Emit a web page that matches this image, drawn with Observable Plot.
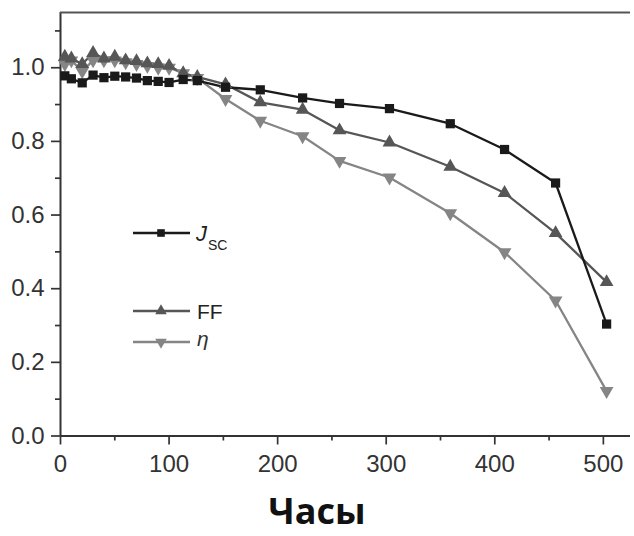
<!DOCTYPE html>
<html><head><meta charset="utf-8">
<script src="https://cdn.jsdelivr.net/npm/d3@7"></script>
<script src="https://cdn.jsdelivr.net/npm/@observablehq/plot@0.6"></script>
<style>
body{margin:0;background:#fff;}
#wrap{position:relative;width:634px;height:536px;overflow:hidden;}
#title{position:absolute;left:0;top:486px;width:634px;height:50px;text-align:center;font-family:"Open Sans","Noto Sans",sans-serif;font-weight:700;font-size:36px;line-height:50px;color:#111;}
#legend{position:absolute;left:0;top:0;}
</style></head><body>
<div id="wrap"><div id="chart"></div><svg id="legend" width="634" height="480"></svg><div id="title">Часы</div></div>
<script>
// Data
const hours = [4,10,20,30,40,50,60,70,80,90,100,113,126,152,184,223,257,303,359,409,456,503];
const jscValues = [0.978,0.970,0.959,0.980,0.973,0.977,0.975,0.972,0.965,0.963,0.960,0.968,0.965,0.947,0.940,0.918,0.903,0.889,0.848,0.778,0.687,0.304];
const ffValues  = [1.030,1.025,1.010,1.040,1.025,1.030,1.020,1.018,1.012,1.010,1.005,0.985,0.975,0.955,0.906,0.886,0.830,0.797,0.731,0.660,0.551,0.418];
const etaValues = [1.010,1.020,0.990,1.020,1.020,1.020,1.015,1.010,1.005,1.000,1.000,0.985,0.972,0.915,0.856,0.814,0.747,0.702,0.605,0.499,0.368,0.122];
const xMajor = [0,100,200,300,400,500];
const xMinor = [50,150,250,350,450];
const yMajor = [0,0.2,0.4,0.6,0.8,1.0];
const yMinor = [0.1,0.3,0.5,0.7,0.9,1.1];
const xMax = 525, yMax = 1.15;

const colJ = "#1a1a1a", colFF = "#565656", colEta = "#858585";
const toRows = vals => hours.map((h,i)=>({h, v: vals[i]}));
const jsc = toRows(jscValues), ff = toRows(ffValues), eta = toRows(etaValues);

const axisStyle = {stroke:"#333", strokeWidth:1.7};
const chart = Plot.plot({
  width:634, height:480,
  marginLeft:60, marginRight:4, marginTop:12, marginBottom:44.5,
  style:{fontFamily:"'Liberation Sans', Arial, sans-serif", fontSize:"24px", background:"transparent", color:"#333"},
  x:{domain:[0,xMax]},
  y:{domain:[0,yMax]},
  marks:[
    Plot.axisX(xMinor,{tickSize:5, tickFormat:()=>"", label:null, ...axisStyle}),
    Plot.axisX(xMajor,{tickSize:9, tickPadding:10, fontSize:24, label:null, tickFormat:d=>String(d), ...axisStyle}),
    Plot.axisY(yMinor,{tickSize:5, tickFormat:()=>"", label:null, ...axisStyle}),
    Plot.axisY(yMajor,{tickSize:9, tickPadding:7, fontSize:24, label:null, tickFormat:d3.format(".1f"), ...axisStyle}),
    Plot.ruleY([0],{stroke:"#333", strokeWidth:2}),
    Plot.ruleX([0],{stroke:"#333", strokeWidth:2}),
    Plot.ruleY([yMax],{stroke:"#555", strokeWidth:2}),
    Plot.line(eta,{x:"h", y:"v", stroke:colEta, strokeWidth:2.3}),
    Plot.line(ff,{x:"h", y:"v", stroke:colFF, strokeWidth:2.3}),
    Plot.line(jsc,{x:"h", y:"v", stroke:colJ, strokeWidth:2.3}),
    Plot.dot(eta,{x:"h", y:"v", symbol:"triangle", rotate:180, r:5.1, fill:colEta, stroke:"none"}),
    Plot.dot(ff,{x:"h", y:"v", symbol:"triangle", r:5.1, fill:colFF, stroke:"none"}),
    Plot.dot(jsc,{x:"h", y:"v", symbol:"square", r:5.2, fill:colJ, stroke:"none"})
  ]
});
d3.select(chart).selectAll("text").style("font-size","24px");
document.getElementById("chart").appendChild(chart);

// Legend overlay
const lg = d3.select("#legend");
const items = [
  {y:233, color:colJ, sym:d3.symbolSquare, rot:0},
  {y:311, color:colFF, sym:d3.symbolTriangle, rot:0},
  {y:342, color:colEta, sym:d3.symbolTriangle, rot:180}
];
items.forEach(it=>{
  lg.append("line").attr("x1",133).attr("x2",190).attr("y1",it.y).attr("y2",it.y).attr("stroke",it.color).attr("stroke-width",2.3);
  lg.append("path").attr("d",d3.symbol(it.sym, Math.PI*4.8*4.8*0.8)()).attr("transform",`translate(161,${it.y}) rotate(${it.rot})`).attr("fill",it.color);
});
const font = "'Liberation Sans', Arial, sans-serif";
const tj = lg.append("text").attr("x",196).attr("y",241).attr("font-family",font).attr("fill","#222").attr("font-size",22);
tj.append("tspan").attr("font-style","italic").text("J");
tj.append("tspan").attr("font-size",14).attr("dy",9).attr("dx",1).text("SC");
lg.append("text").attr("x",197).attr("y",318.5).attr("font-family",font).attr("fill","#222").attr("font-size",21).text("FF");
lg.append("text").attr("x",197).attr("y",346).attr("font-family",font).attr("font-style","italic").attr("fill","#333").attr("font-size",21).text("η");
</script>
</body></html>
